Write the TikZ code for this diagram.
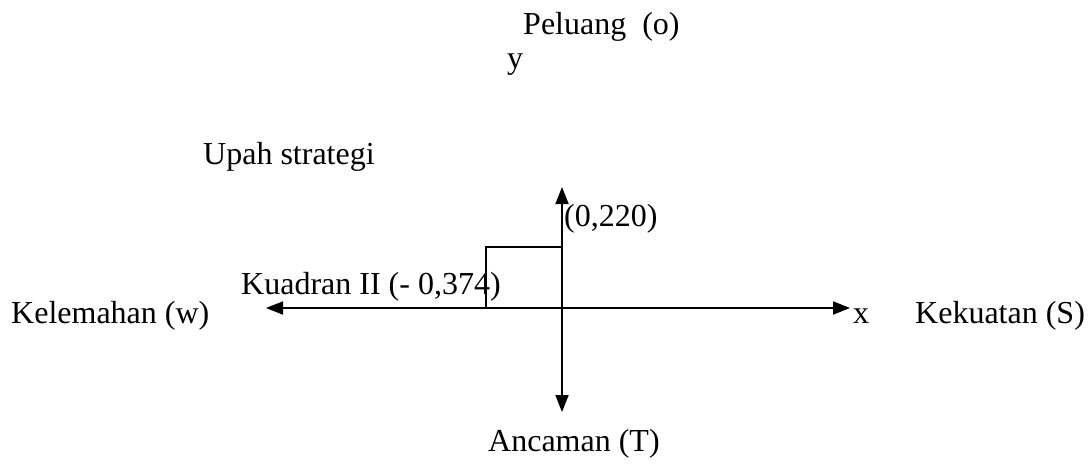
\documentclass[tikz,border=0pt]{standalone}
\usepackage{fontspec}
\setmainfont{Liberation Serif}
\usetikzlibrary{arrows.meta}
\begin{document}
\begin{tikzpicture}[x=1pt,y=-1pt,
  lbl/.style={anchor=base west,inner sep=0pt,font=\fontsize{32}{38}\selectfont},
  axis/.style={line width=1.8pt,-{Triangle[length=17pt,width=13pt]}},
  box/.style={line width=1.6pt}]
\useasboundingbox (0,0) rectangle (1091,463);
\fill[white] (0,0) rectangle (1091,463);
\coordinate (O) at (562,308);
\coordinate (L) at (266,308);
\coordinate (R) at (850,308);
\coordinate (T) at (562,187);
\coordinate (B) at (562,412);
\coordinate (q1) at (486,308);
\coordinate (q2) at (486,247);
\coordinate (q3) at (562,247);
\draw[axis] (O) -- (L);
\draw[axis] (O) -- (R);
\draw[axis] (O) -- (T);
\draw[axis] (O) -- (B);
\draw[box] (q1) -- (q2) -- (q3);
\node[lbl] (peluang) at (523,34) {Peluang\ \ (o)};
\node[lbl] (y) at (507,68) {y};
\node[lbl] (upah) at (203,164) {Upah strategi};
\node[lbl] (v) at (564,226) {(0,220)};
\node[lbl] (kuad) at (241,294) {Kuadran II (- 0,374)};
\node[lbl] (w) at (11,323) {Kelemahan (w)};
\node[lbl] (x) at (853,323) {x};
\node[lbl] (s) at (915,323) {Kekuatan (S)};
\node[lbl] (t) at (488,451) {Ancaman (T)};
\end{tikzpicture}
\end{document}
